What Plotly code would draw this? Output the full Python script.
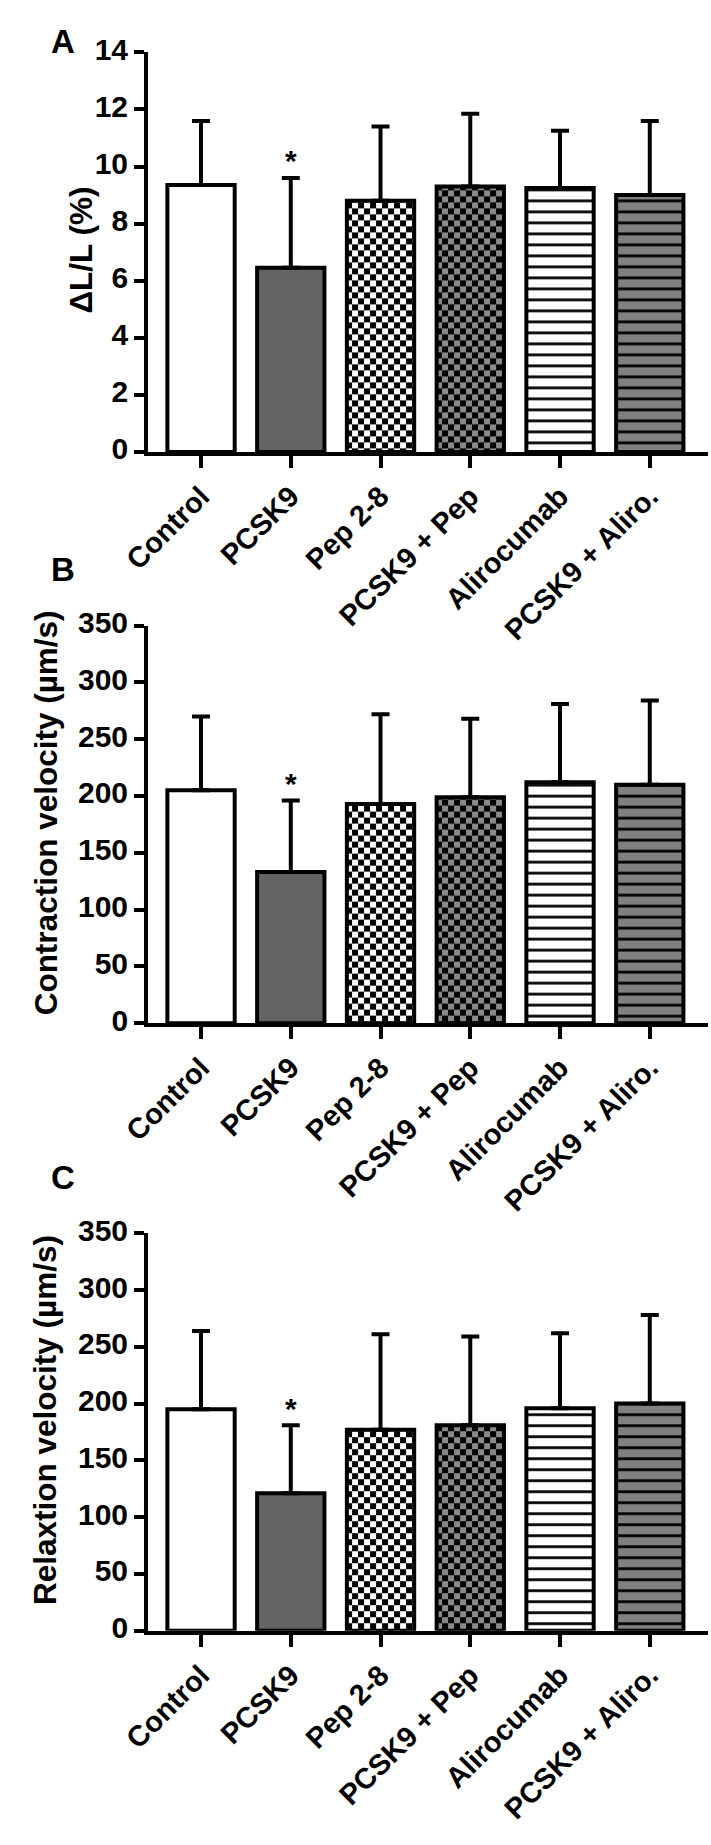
import plotly.graph_objects as go

categories = ["Control", "PCSK9", "Pep 2-8", "PCSK9 + Pep", "Alirocumab", "PCSK9 + Aliro."]

# Panel A: ΔL/L (%)
dl_mean = [9.35, 6.45, 8.8, 9.3, 9.25, 9.0]
dl_sd = [2.25, 3.15, 2.6, 2.55, 2.0, 2.6]
# Panel B: contraction velocity (µm/s)
cv_mean = [205, 133, 193, 199, 212, 210]
cv_sd = [65, 63, 79, 69, 69, 74]
# Panel C: relaxation velocity (µm/s)
rv_mean = [195, 121, 177, 181, 196, 200]
rv_sd = [69, 60, 84, 78, 66, 78]

y_titles = ["\u0394L/L (%)", "Contraction velocity (\u00b5m/s)", "Relaxtion velocity (\u00b5m/s)"]
panel_letters = ["A", "B", "C"]
y_ranges = [[0, 14], [0, 350], [0, 350]]
y_dticks = [2, 50, 50]
sig_index = 1  # PCSK9 marked with *

W, H = 711, 1845
FONT = "Liberation Sans, Arial, Helvetica, sans-serif"

# layout geometry (pixels)
x_left, x_right = 125, 708
panels_px = [(33, 440), (617, 1022), (1236, 1641)]
title_pos_px = [(55, 234), (19, 808), (17, 1426)]
letter_pos_px = [(36, 22), (36, 560), (36, 1179)]


def checker(fg, bg):
    try:
        return go.bar.marker.Pattern(path="M0,0H6V6H0Z M6,6H12V12H6Z", size=12,
                                     fgcolor=fg, bgcolor=bg, fillmode="replace")
    except Exception:
        return go.bar.marker.Pattern(shape="x", size=9, solidity=0.5,
                                     fgcolor=fg, bgcolor=bg, fillmode="replace")


def lines(fg, bg):
    return go.bar.marker.Pattern(shape="-", size=11, solidity=0.25,
                                 fgcolor=fg, bgcolor=bg, fillmode="replace")


styles = [
    dict(color="white", pattern=None),
    dict(color="#636363", pattern=None),
    dict(color="white", pattern=lambda: checker("black", "white")),
    dict(color="#8a8a8a", pattern=lambda: checker("black", "#8a8a8a")),
    dict(color="white", pattern=lambda: lines("black", "white")),
    dict(color="#808080", pattern=lambda: lines("black", "#808080")),
]

data = [(dl_mean, dl_sd), (cv_mean, cv_sd), (rv_mean, rv_sd)]

fig = go.Figure()
annotations = []
layout_axes = {}

for p, (means, sds) in enumerate(data):
    xa = "x" if p == 0 else f"x{p+1}"
    ya = "y" if p == 0 else f"y{p+1}"
    for i, cat in enumerate(categories):
        st = styles[i]
        marker = dict(color=st["color"], line=dict(color="black", width=4))
        if st["pattern"] is not None:
            marker["pattern"] = st["pattern"]()
        fig.add_trace(go.Bar(
            x=[cat], y=[means[i]], width=0.75, marker=marker,
            error_y=dict(type="data", symmetric=False, array=[sds[i]], arrayminus=[0],
                         color="black", thickness=4, width=9),
            xaxis=xa, yaxis=ya, showlegend=False, hoverinfo="skip"))
    top_px, bot_px = panels_px[p]
    ydom = [1 - bot_px / H, 1 - top_px / H]
    xdom = [x_left / W, x_right / W]
    xkey = "xaxis" if p == 0 else f"xaxis{p+1}"
    ykey = "yaxis" if p == 0 else f"yaxis{p+1}"
    layout_axes[xkey] = dict(
        domain=xdom, anchor=ya, type="category", categoryorder="array",
        categoryarray=categories, range=[-0.59, 5.65],
        showline=True, linecolor="black", linewidth=4, ticks="outside",
        ticklen=12, tickwidth=4, tickcolor="black", showgrid=False, zeroline=False,
        tickangle=-45, tickfont=dict(family=FONT, size=29, color="black", weight="bold"))
    layout_axes[ykey] = dict(
        domain=ydom, anchor=xa, range=y_ranges[p], dtick=y_dticks[p], tick0=0,
        showline=True, linecolor="black", linewidth=4, ticks="outside",
        ticklen=10, tickwidth=4, tickcolor="black", showgrid=False, zeroline=False,
        ticklabelshift=-3,
        tickfont=dict(family=FONT, size=30, color="black", weight="bold"))
    tx, ty = title_pos_px[p]
    annotations.append(dict(
        text=y_titles[p], textangle=-90, xref="paper", yref="paper",
        x=tx / W, y=1 - ty / H,
        xanchor="center", yanchor="middle", showarrow=False,
        font=dict(family=FONT, size=31.5, color="black", weight="bold")))
    lx, ly = letter_pos_px[p]
    annotations.append(dict(
        text=panel_letters[p], xref="paper", yref="paper", x=lx / W, y=1 - ly / H,
        xanchor="center", yanchor="middle", showarrow=False,
        font=dict(family=FONT, size=33, color="black", weight="bold")))
    annotations.append(dict(
        text="*", xref=xa, yref=ya, x=categories[sig_index],
        y=means[sig_index] + sds[sig_index], yshift=17,
        xanchor="center", yanchor="middle", showarrow=False,
        font=dict(family=FONT, size=30, color="black", weight="bold")))

fig.update_layout(
    width=W, height=H, margin=dict(l=0, r=0, t=0, b=0),
    paper_bgcolor="white", plot_bgcolor="white", barmode="overlay",
    annotations=annotations, **layout_axes)

fig.write_html("out.html", config={"displayModeBar": False},
               post_script="document.body.style.margin='0px';")
